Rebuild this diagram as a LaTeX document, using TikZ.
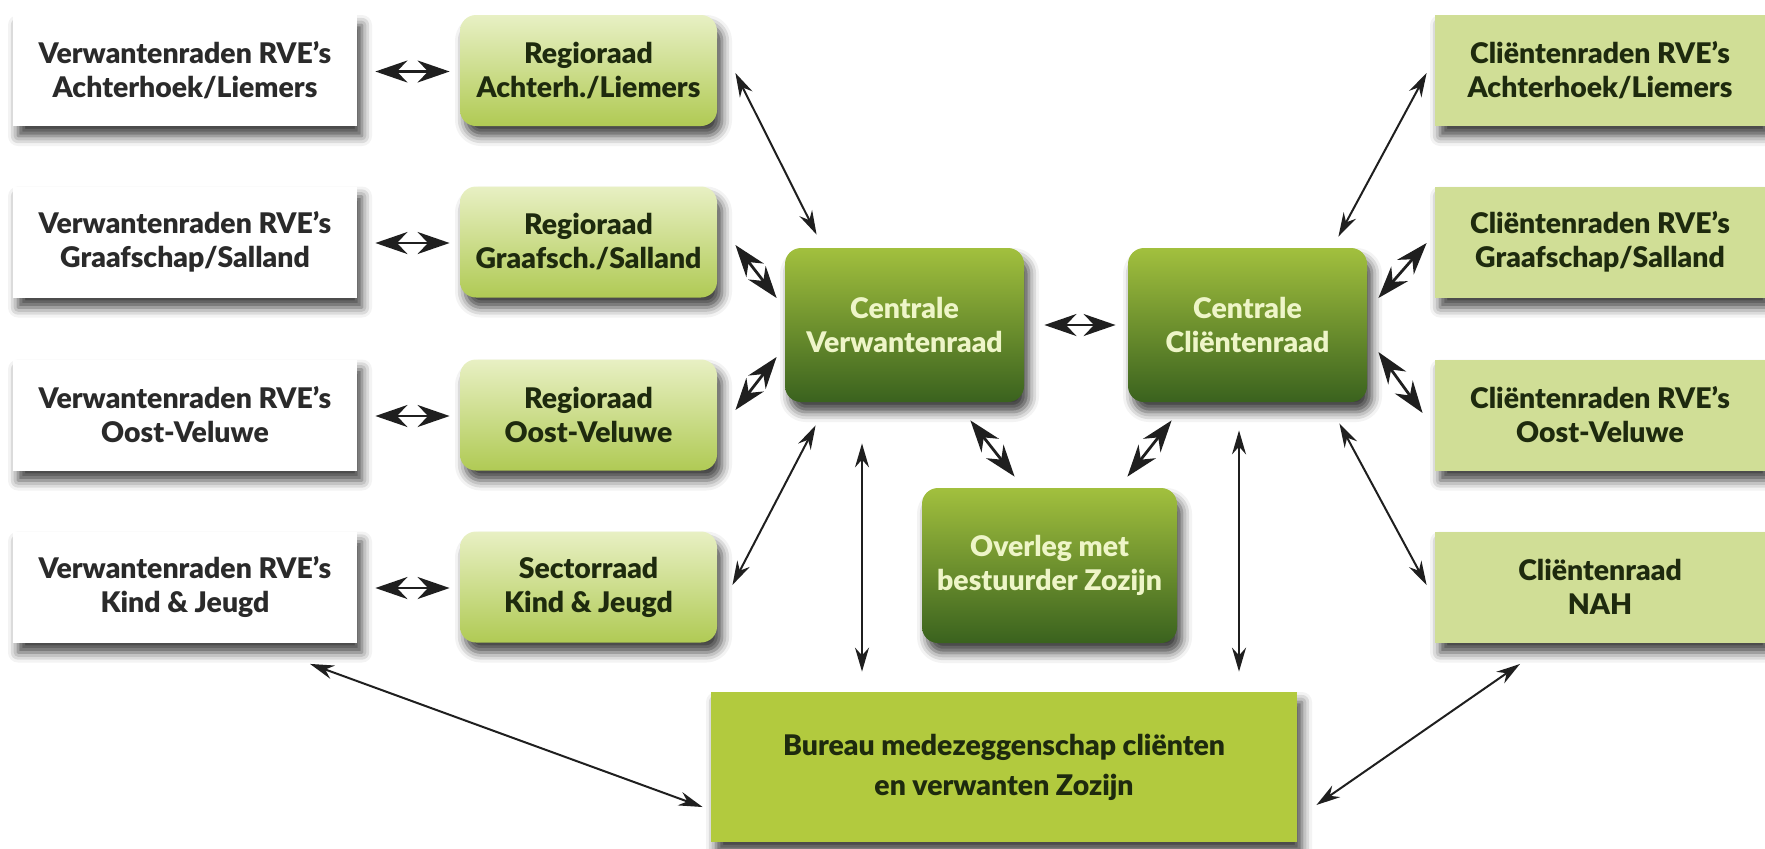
\documentclass[tikz,border=0pt]{standalone}
\usepackage{fontspec}
\setmainfont{Lato}[BoldFont={* Black}]
\usetikzlibrary{arrows.meta,shadows.blur}

\definecolor{paleolive}{RGB}{232,240,196}
\definecolor{midolive}{RGB}{176,202,84}
\definecolor{topgreen}{RGB}{162,192,62}
\definecolor{darkgreen}{RGB}{58,98,30}
\definecolor{clientgreen}{RGB}{208,222,150}
\definecolor{bureaugreen}{RGB}{178,202,62}
\definecolor{paletext}{RGB}{238,245,200}
\definecolor{inkgrey}{RGB}{42,42,42}
\definecolor{inkgreen}{RGB}{30,42,14}

\begin{document}
\begin{tikzpicture}[x=0.5pt, y=-0.5pt, >=Stealth,
  every node/.style={font=\fontsize{14.2}{17}\selectfont\bfseries, align=center, inner sep=0pt},
  boxshadow/.style={blur shadow={shadow xshift=2.5pt, shadow yshift=-5pt, shadow blur radius=5pt, shadow opacity=75}},
  wvbox/.style={boxshadow, fill=white, text=inkgrey, minimum width=172pt, minimum height=55.5pt},
  rrbox/.style={boxshadow, rounded corners=8pt, top color=paleolive, bottom color=midolive, text=inkgreen, minimum width=128.5pt, minimum height=55.5pt},
  centralbox/.style={boxshadow, rounded corners=8pt, top color=topgreen, bottom color=darkgreen, text=paletext, minimum width=119.5pt, minimum height=77pt},
  rcbox/.style={boxshadow, fill=clientgreen, text=inkgreen, minimum width=165pt, minimum height=55.5pt},
  bureaubox/.style={boxshadow, fill=bureaugreen, text=inkgreen, minimum width=293pt, minimum height=75pt},
  link/.style={<->, line width=1pt, draw=black!88, >={Stealth[length=12pt,width=7pt]}},
  shortlink/.style={<->, line width=1.4pt, draw=black!88, >={Stealth[length=16pt,width=11pt]}}]

  \useasboundingbox (0,0) rectangle (1765,848);

  % Verwantenraden (left column)
  \node[wvbox] (wv1) at (185,70.5) {Verwantenraden RVE’s\\Achterhoek/Liemers};
  \node[wvbox] (wv2) at (185,242) {Verwantenraden RVE’s\\Graafschap/Salland};
  \node[wvbox] (wv3) at (185,415) {Verwantenraden RVE’s\\Oost-Veluwe};
  \node[wvbox] (wv4) at (185,587) {Verwantenraden RVE’s\\Kind \& Jeugd};

  % Regio- en sectorraden
  \node[rrbox] (rr1) at (588.5,70.5) {Regioraad\\Achterh./Liemers};
  \node[rrbox] (rr2) at (588.5,242) {Regioraad\\Graafsch./Salland};
  \node[rrbox] (rr3) at (588.5,415) {Regioraad\\Oost-Veluwe};
  \node[rrbox] (rr4) at (588.5,587) {Sectorraad\\Kind \& Jeugd};

  % Centrale raden en overleg
  \node[centralbox] (cv) at (904.5,325) {Centrale\\Verwantenraad};
  \node[centralbox] (cc) at (1247.5,325) {Centrale\\Cliëntenraad};
  \node[centralbox, minimum width=127.5pt, minimum height=77.5pt] (ov) at (1049.5,565.5) {Overleg met\\bestuurder Zozijn};

  % Cliëntenraden (right column)
  \node[rcbox] (rc1) at (1600,70.5) {Cliëntenraden RVE’s\\Achterhoek/Liemers};
  \node[rcbox] (rc2) at (1600,242) {Cliëntenraden RVE’s\\Graafschap/Salland};
  \node[rcbox] (rc3) at (1600,415) {Cliëntenraden RVE’s\\Oost-Veluwe};
  \node[rcbox] (rc4) at (1600,587) {Cliëntenraad\\NAH};

  % Bureau
  \node[bureaubox] (bu) at (1004,767) {Bureau medezeggenschap cliënten\\[3pt]en verwanten Zozijn};

  % Verwantenraden <-> regioraden
  \foreach \i in {1,...,4}
    \draw[shortlink] ([shift={(18,1)}]wv\i.east) -- ([shift={(-10,1)}]rr\i.west);

  % regioraden <-> centrale verwantenraad
  \draw[link] ([shift={(18,2.5)}]rr1.east) -- ([shift={(32,-13)}]cv.north west);
  \draw[shortlink] ([shift={(18,3)}]rr2.east) -- ([shift={(-8,-27)}]cv.west);
  \draw[shortlink] ([shift={(18,-5)}]rr3.east) -- ([shift={(-8,32)}]cv.west);
  \draw[link] ([shift={(15,-2)}]rr4.east) -- ([shift={(31,23)}]cv.south west);

  % centrale raden onderling
  \draw[shortlink] ([shift={(20,0)}]cv.east) -- ([shift={(-12,0)}]cc.west);
  \draw[shortlink] ([shift={(-54,18)}]cv.south east) -- ([shift={(93,-11)}]ov.north west);
  \draw[shortlink] ([shift={(44,18)}]cc.south west) -- ([shift={(-50,-11)}]ov.north east);
  \draw[link] ([shift={(-42.5,41)}]cv.south) -- ([shift={(-142,-20)}]bu.north);
  \draw[link] ([shift={(-8.5,28)}]cc.south) -- ([shift={(235,-20)}]bu.north);

  % centrale cliëntenraad <-> cliëntenraden
  \draw[link] ([shift={(-29,-11)}]cc.north east) -- ([shift={(-8,2.5)}]rc1.west);
  \draw[shortlink] ([shift={(11,-27)}]cc.east) -- ([shift={(-8,1)}]rc2.west);
  \draw[shortlink] ([shift={(11,27)}]cc.east) -- ([shift={(-12,-2)}]rc3.west);
  \draw[link] ([shift={(-28,21)}]cc.south east) -- ([shift={(-8,-2)}]rc4.west);

  % bureau medezeggenschap
  \draw[link] ([shift={(125,21)}]wv4.south) -- ([shift={(-8,40)}]bu.west);
  \draw[link] ([shift={(19,38)}]bu.east) -- ([shift={(-80,21)}]rc4.south);
\end{tikzpicture}
\end{document}
